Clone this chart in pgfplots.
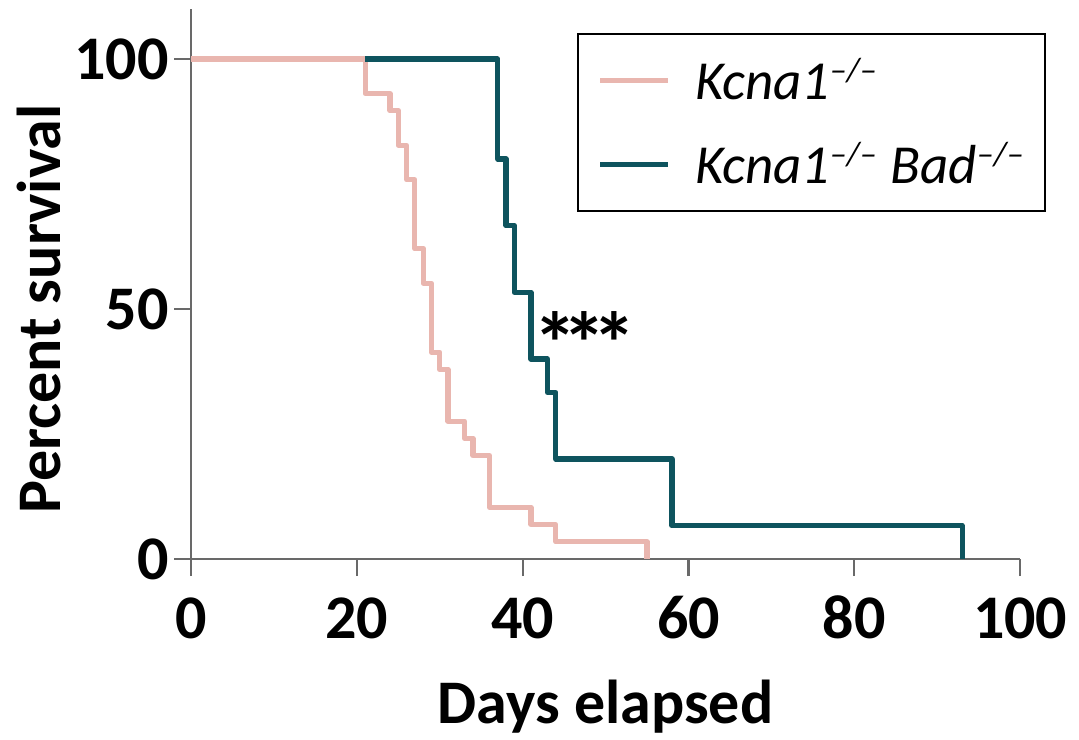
\documentclass[border=0pt]{standalone}
\usepackage{fontspec}
\setmainfont{Carlito}
\usepackage{pgfplots}
\pgfplotsset{compat=1.18}

\definecolor{kcnapink}{RGB}{233,182,175}
\definecolor{badteal}{RGB}{14,84,94}
\definecolor{axisgray}{RGB}{105,105,105}

\newcommand\ko{\textsuperscript{\fontsize{17}{17}\selectfont–/–}}

\begin{document}
\begin{tikzpicture}
\begin{axis}[
    scale only axis,
    width=414.5pt,
    height=275pt,
    xmin=0, xmax=100,
    ymin=0, ymax=110,
    xtick={0,20,40,60,80,100},
    ytick={0,50,100},
    axis lines=left,
    axis line style={axisgray, line width=1pt, -},
    tick style={axisgray, line width=1pt},
    tick align=outside,
    major tick length=8.5pt,
    /pgf/number format/assume math mode=true,
    ticklabel style={font=\fontsize{31}{31}\selectfont\bfseries},
    xticklabel style={anchor=base, yshift=-31pt},
    yticklabel style={anchor=east, inner sep=0pt, xshift=-2.5pt},
    xlabel={Days elapsed},
    ylabel={Percent survival},
    label style={font=\fontsize{31}{31}\selectfont\bfseries},
    xlabel style={at={(axis description cs:0.5,-0.298)}, anchor=base},
    ylabel style={at={(axis description cs:-0.158,0.4545)}, anchor=base, rotate=0},
    clip=false,
    legend style={
        at={(axis description cs:1.031,0.956)}, anchor=north east,
        draw=black, line width=1pt,
        font=\fontsize{27.5}{27.5}\selectfont\itshape,
        inner xsep=10pt, inner ysep=10pt,
        row sep=16pt,
        nodes={inner xsep=0pt},
        cells={anchor=west},
        /tikz/every odd column/.append style={column sep=12pt},
    },
    legend image code/.code={%
        \draw[#1, line width=2.6pt] (0pt,0pt) -- (34pt,0pt);},
]

% Kcna1-/- (n = 29)
\addplot[const plot, kcnapink, line width=2.6pt, line join=round]
coordinates {
    (0,100) (21,93.10) (24,89.66) (25,82.76) (26,75.86) (27,62.07)
    (28,55.17) (29,41.38) (30,37.93) (31,27.59) (33,24.14) (34,20.69)
    (36,10.34) (41,6.90) (44,3.45) (55,0)
};

% Kcna1-/- Bad-/- (n = 15)
\addplot[const plot, badteal, line width=2.6pt, line join=round]
coordinates {
    (21,100) (37,80) (38,66.67) (39,53.33) (41,40) (43,33.33)
    (44,20) (58,6.67) (93,0)
};

\legend{Kcna1\ko, Kcna1\ko\ Bad\ko}

\node[font=\fontsize{44}{44}\selectfont\bfseries, yshift=-10pt]
    at (axis cs:47.5,47.2) {*\kern-7pt*\kern-7pt*};

\coordinate (bbl) at (axis cs:-23.04,-36);
\coordinate (btr) at (axis cs:107.1,111.8);
\end{axis}
\pgfresetboundingbox
\useasboundingbox (bbl) rectangle (btr);
\end{tikzpicture}
\end{document}
